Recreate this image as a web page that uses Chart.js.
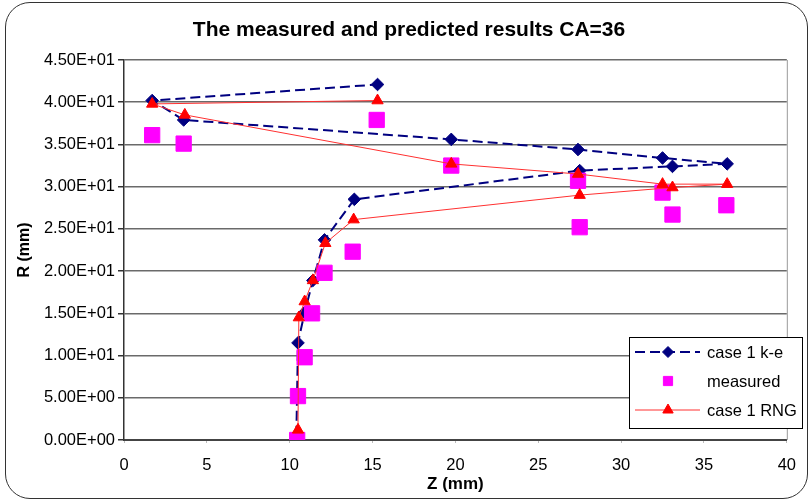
<!DOCTYPE html>
<html>
<head>
<meta charset="utf-8">
<script src="https://cdn.jsdelivr.net/npm/chart.js@4.4.1/dist/chart.umd.min.js"></script>
<style>
  html, body { margin: 0; padding: 0; background: #fff; overflow: hidden; }
  #frame {
    position: absolute; left: 5px; top: 2px; width: 803px; height: 497px;
    border: 1.5px solid #333; border-radius: 25px; box-sizing: border-box;
  }
  #wrap { position: absolute; left: 0; top: 0; width: 809px; height: 501px; }
</style>
</head>
<body>
<div id="frame"></div>
<div id="wrap"><canvas id="chart"></canvas></div>
<script>
// data
var keZ = [10.4, 10.5, 10.9, 11.4, 12.1, 13.9, 27.5, 33.1, 36.4, 32.5, 27.4, 19.75, 3.6, 1.7, 15.3];
var keR = [0.5, 11.5, 15.1, 18.9, 23.7, 28.5, 31.9, 32.4, 32.7, 33.4, 34.4, 35.6, 37.9, 40.2, 42.1];

var measZ = [1.7, 3.6, 15.25, 19.75, 27.4, 27.5, 32.5, 33.1, 36.35, 13.8, 12.1, 11.35, 10.9, 10.5, 10.45];
var measR = [36.1, 35.1, 37.9, 32.5, 30.7, 25.2, 29.3, 26.7, 27.8, 22.3, 19.8, 15.0, 9.8, 5.2, 0.0];

var rngZ = [10.5, 10.55, 10.9, 11.4, 12.15, 13.86, 27.5, 33.1, 36.4, 32.5, 27.4, 19.75, 3.67, 1.7, 15.3];
var rngR = [1.2, 14.5, 16.4, 18.9, 23.3, 26.1, 29.0, 29.9, 30.3, 30.3, 31.5, 32.7, 38.5, 39.8, 40.2];

var legendNames = ["case 1 k-e", "measured", "case 1 RNG"];
var xTicks = { min: 0, max: 40, step: 5 };
var yTicks = { min: 0, max: 45, step: 5 };

function pts(xs, ys) {
  return xs.map(function (x, i) { return { x: x, y: ys[i] }; });
}

function sci(v) {
  var parts = Number(v).toExponential(2).split("e");
  var n = parseInt(parts[1], 10);
  return parts[0] + "E" + (n < 0 ? "-" : "+") + String(Math.abs(n)).padStart(2, "0");
}

var FONT = "'Liberation Sans', Arial, sans-serif";

// plot frame + legend box drawn on top
var extras = {
  id: "extras",
  afterDraw: function (chart) {
    var ctx = chart.ctx;
    var a = chart.chartArea;
    ctx.save();
    ctx.strokeStyle = "#9a9a9a";
    ctx.lineWidth = 1;
    ctx.beginPath();
    ctx.moveTo(a.right + 0.5, a.top);
    ctx.lineTo(a.right + 0.5, a.bottom);
    ctx.stroke();

    // legend
    var bx = 629, by = 337, bw = 173, bh = 91;
    ctx.fillStyle = "#fff";
    ctx.fillRect(bx, by, bw, bh);
    ctx.strokeStyle = "#000";
    ctx.lineWidth = 1;
    ctx.strokeRect(bx + 0.5, by + 0.5, bw, bh);

    var rows = [352, 381, 410];
    chart.data.datasets.forEach(function (ds, k) {
      var y = rows[k];
      if (ds.showLine) {
        ctx.save();
        ctx.strokeStyle = ds.borderColor;
        ctx.lineWidth = ds.borderWidth;
        ctx.setLineDash(ds.borderDash || []);
        ctx.beginPath();
        ctx.moveTo(635, y);
        ctx.lineTo(700, y);
        ctx.stroke();
        ctx.restore();
      }
      ctx.save();
      ctx.fillStyle = ds.pointBackgroundColor;
      ctx.strokeStyle = ds.pointBorderColor;
      ctx.lineWidth = 1;
      Chart.helpers.drawPoint(ctx, {
        pointStyle: ds.pointStyle,
        radius: ds.legendRadius,
        borderWidth: 1
      }, 668, y);
      ctx.restore();
      ctx.fillStyle = "#000";
      ctx.font = "16.5px " + FONT;
      ctx.textAlign = "left";
      ctx.textBaseline = "middle";
      ctx.fillText(ds.label, 707, y + 1);
    });
    ctx.restore();
  }
};

var datasets = [
  {
    label: legendNames[0],
    data: pts(keZ, keR),
    showLine: true,
    borderColor: "#000080",
    borderWidth: 2,
    borderDash: [10, 5],
    pointStyle: "rectRot",
    pointRadius: 6.3,
    legendRadius: 5.5,
    pointBackgroundColor: "#000080",
    pointBorderColor: "#000080",
    pointBorderWidth: 1,
    order: 3
  },
  {
    label: legendNames[1],
    data: pts(measZ, measR),
    showLine: false,
    borderColor: "#ff00ff",
    pointStyle: "rect",
    pointRadius: 10.8,
    legendRadius: 6.5,
    pointBackgroundColor: "#ff00ff",
    pointBorderColor: "#ff00ff",
    pointBorderWidth: 1,
    order: 2
  },
  {
    label: legendNames[2],
    data: pts(rngZ, rngR),
    showLine: true,
    borderColor: "#ff3030",
    borderWidth: 1,
    pointStyle: "triangle",
    pointRadius: 6.5,
    legendRadius: 6,
    pointBackgroundColor: "#ff0000",
    pointBorderColor: "#ff0000",
    pointBorderWidth: 1,
    order: 1
  }
];

var ctx = document.getElementById("chart").getContext("2d");

var chart = new Chart(ctx, {
  type: "scatter",
  data: { datasets: datasets },
  options: {
    responsive: true,
    maintainAspectRatio: false,
    animation: false,
    layout: { padding: { left: 17, right: 8, top: 0, bottom: 0 } },
    plugins: {
      legend: { display: false },
      tooltip: { enabled: false },
      title: {
        display: true,
        text: "The measured and predicted results CA=36",
        color: "#000",
        font: { size: 21, weight: "bold", family: FONT, lineHeight: 1.2 },
        padding: { top: 18, bottom: 16.8 }
      }
    },
    scales: {
      x: {
        type: "linear",
        min: xTicks.min,
        max: xTicks.max,
        afterFit: function (s) { s.height = 61; },
        border: { display: true, color: "#444", width: 2 },
        grid: { display: true, drawOnChartArea: false, drawTicks: true, tickLength: 3, color: "#bbb" },
        ticks: {
          stepSize: xTicks.step,
          padding: 13,
          color: "#000",
          maxRotation: 0,
          font: { size: 16.5, family: FONT }
        },
        title: {
          display: true,
          text: "Z (mm)",
          color: "#000",
          font: { size: 17, weight: "bold", family: FONT, lineHeight: 1.2 },
          padding: { top: 0, bottom: 6 }
        }
      },
      y: {
        type: "linear",
        min: yTicks.min,
        max: yTicks.max,
        afterFit: function (s) { s.width = 107; },
        border: { display: true, color: "#333", width: 1.5 },
        grid: { display: true, drawOnChartArea: true, drawTicks: true, tickLength: 6, color: "#6a6a6a", lineWidth: 1.5, tickColor: "#333" },
        ticks: {
          stepSize: yTicks.step,
          padding: 3,
          color: "#000",
          font: { size: 16.5, family: FONT },
          callback: function (v) { return sci(v); }
        },
        title: {
          display: true,
          text: "R (mm)",
          color: "#000",
          font: { size: 16, weight: "bold", family: FONT, lineHeight: 1 },
          padding: { top: 0, bottom: 0 }
        }
      }
    }
  },
  plugins: [extras]
});
</script>
</body>
</html>
